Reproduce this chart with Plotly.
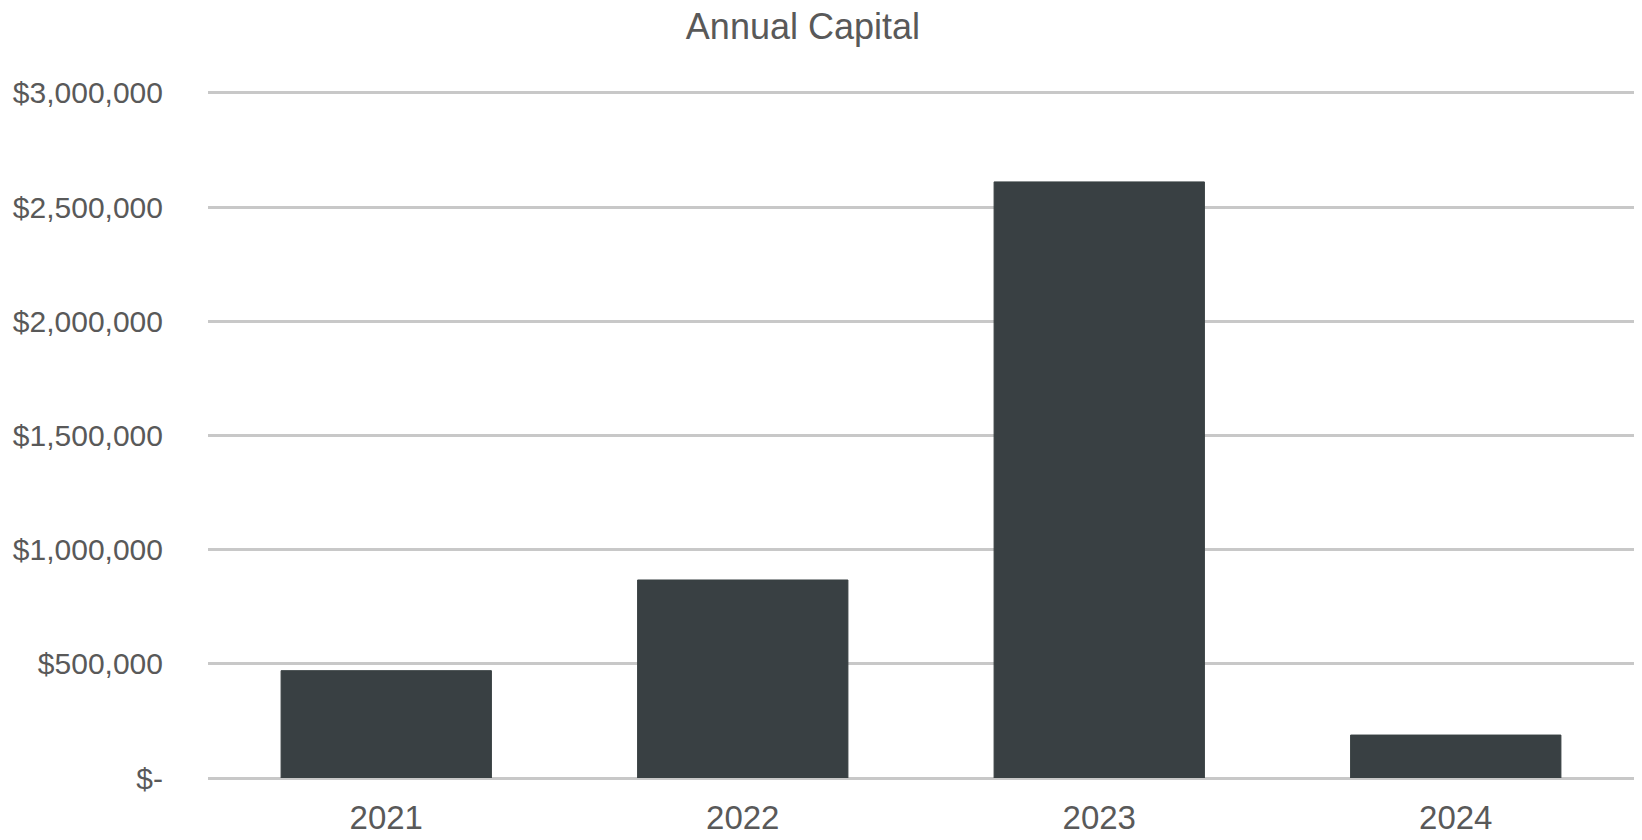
import plotly.graph_objects as go

years = ["2021", "2022", "2023", "2024"]
capital = [470000, 867000, 2610000, 188000]
y_tick_vals = [0, 500000, 1000000, 1500000, 2000000, 2500000, 3000000]
y_tick_text = ["$-", "$500,000", "$1,000,000", "$1,500,000", "$2,000,000", "$2,500,000", "$3,000,000"]

FONT = "Liberation Sans Narrow, Arial Narrow, Liberation Sans, sans-serif"
TXT = "#595959"

fig = go.Figure(go.Bar(
    x=years, y=capital,
    marker=dict(color="#394043", line=dict(color="#394043", width=1)),
    hoverinfo="x+y",
))

fig.update_layout(
    width=1642, height=840,
    margin=dict(l=208, r=8, t=70, b=62),
    paper_bgcolor="white", plot_bgcolor="white",
    bargap=0.41,
    showlegend=False,
    title=dict(text="Annual Capital", x=0.489, xanchor="center", y=1 - 26 / 840, yanchor="middle",
               yref="container", font=dict(family=FONT, size=36, color=TXT)),
    font=dict(family=FONT, color=TXT),
)
fig.update_yaxes(
    range=[0, 3100000], tickvals=y_tick_vals, ticktext=y_tick_text,
    showgrid=True, gridcolor="#c8c8c8", gridwidth=2.5,
    zeroline=True, zerolinecolor="#c8c8c8", zerolinewidth=2.5,
    tickfont=dict(family=FONT, size=30, color=TXT),
    ticks="", ticklabelstandoff=44, showline=False, automargin=False,
)
fig.update_xaxes(
    tickfont=dict(family=FONT, size=33, color=TXT),
    ticks="", showline=False, ticklabelstandoff=17, automargin=False,
)

fig.write_html("out.html", config={"displayModeBar": False},
               post_script="document.body.style.margin='0';document.body.style.overflow='hidden';")
